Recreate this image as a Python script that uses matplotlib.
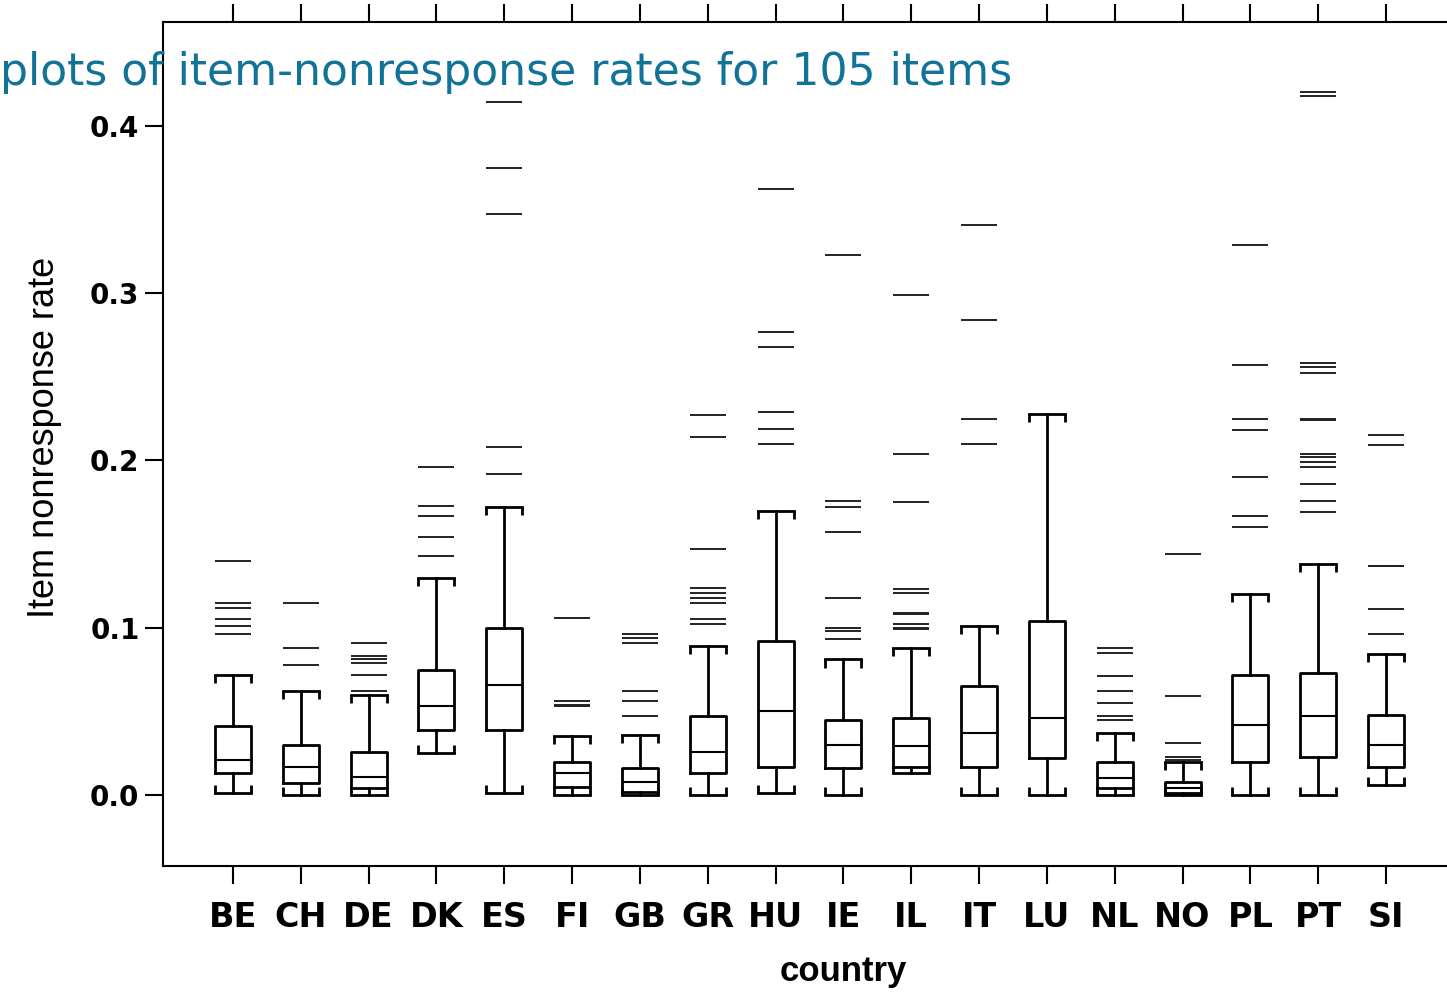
import numpy as np
import matplotlib
matplotlib.use('Agg')
import matplotlib.pyplot as plt

# Data
countries = ['BE', 'CH', 'DE', 'DK', 'ES', 'FI', 'GB', 'GR', 'HU',
             'IE', 'IL', 'IT', 'LU', 'NL', 'NO', 'PL', 'PT', 'SI']
whislo = [0.001, 0.000, 0.000, 0.025, 0.001, 0.000, 0.000, 0.000, 0.001,
          0.000, 0.013, 0.000, 0.000, 0.000, 0.000, 0.000, 0.000, 0.006]
q1 = [0.013, 0.007, 0.004, 0.039, 0.039, 0.005, 0.002, 0.013, 0.017,
      0.016, 0.017, 0.017, 0.022, 0.004, 0.001, 0.020, 0.023, 0.017]
med = [0.021, 0.017, 0.011, 0.053, 0.066, 0.013, 0.008, 0.026, 0.050,
       0.030, 0.029, 0.037, 0.046, 0.010, 0.004, 0.042, 0.047, 0.030]
q3 = [0.041, 0.030, 0.026, 0.075, 0.100, 0.020, 0.016, 0.047, 0.092,
      0.045, 0.046, 0.065, 0.104, 0.020, 0.008, 0.072, 0.073, 0.048]
whishi = [0.072, 0.062, 0.060, 0.130, 0.172, 0.035, 0.036, 0.089, 0.170,
          0.081, 0.088, 0.101, 0.228, 0.037, 0.020, 0.120, 0.138, 0.084]
outliers = [
    [0.140, 0.115, 0.112, 0.105, 0.101, 0.096],
    [0.115, 0.088, 0.078],
    [0.091, 0.083, 0.081, 0.079, 0.072, 0.062],
    [0.196, 0.173, 0.167, 0.154, 0.143],
    [0.414, 0.375, 0.347, 0.208, 0.192],
    [0.106, 0.056, 0.054, 0.053],
    [0.096, 0.094, 0.091, 0.062, 0.056, 0.047],
    [0.227, 0.214, 0.147, 0.124, 0.121, 0.118, 0.115, 0.105, 0.102],
    [0.362, 0.277, 0.268, 0.229, 0.219, 0.210],
    [0.323, 0.176, 0.172, 0.157, 0.118, 0.100, 0.098, 0.093],
    [0.299, 0.204, 0.175, 0.123, 0.121, 0.109, 0.108, 0.102, 0.100, 0.099],
    [0.341, 0.284, 0.225, 0.210],
    [],
    [0.088, 0.085, 0.071, 0.062, 0.055, 0.047, 0.045],
    [0.144, 0.059, 0.031, 0.023, 0.021],
    [0.329, 0.257, 0.225, 0.218, 0.190, 0.167, 0.160],
    [0.420, 0.418, 0.258, 0.256, 0.252, 0.225, 0.224, 0.204, 0.202, 0.199,
     0.196, 0.186, 0.176, 0.169],
    [0.215, 0.209, 0.137, 0.137, 0.111, 0.096],
]
yticks = [0.0, 0.1, 0.2, 0.3, 0.4]
ytick_labels = ['0.0', '0.1', '0.2', '0.3', '0.4']
title = 'plots of item-nonresponse rates for 105 items'

W, H = 1447, 993
fig = plt.figure(figsize=(W / 100, H / 100), dpi=100)
# axes runs off the right edge of the picture, like the reference
ax_l, ax_r, ax_b, ax_t = 163, 1462, 866, 22
ax = fig.add_axes([ax_l / W, 1 - ax_b / H, (ax_r - ax_l) / W, (ax_b - ax_t) / H])

pos = np.arange(1, len(countries) + 1)
bw = 0.53
stats = []
for i, c in enumerate(countries):
    stats.append(dict(label=c, med=med[i], q1=q1[i], q3=q3[i],
                      whislo=whislo[i], whishi=whishi[i], fliers=[]))

lw = 2.0
ax.bxp(stats, positions=pos, widths=bw, capwidths=bw, showfliers=False,
       boxprops=dict(color='black', linewidth=lw),
       medianprops=dict(color='black', linewidth=1.5),
       whiskerprops=dict(color='black', linewidth=lw),
       capprops=dict(color='black', linewidth=lw))

# little end ticks on the caps
tk = 0.0048
for i in range(len(countries)):
    for xe in (pos[i] - bw / 2, pos[i] + bw / 2):
        ax.vlines(xe, whishi[i] - tk, whishi[i], color='black', linewidth=lw)
        ax.vlines(xe, whislo[i], whislo[i] + tk, color='black', linewidth=lw)

# outliers drawn as short dashes
for i, vals in enumerate(outliers):
    if vals:
        ax.hlines(vals, pos[i] - bw / 2, pos[i] + bw / 2,
                  color='#222222', linewidth=1.4)

sp = (1386 - 233) / 17
ax.set_xlim(1 - (233 - ax_l) / sp, 1 + (ax_r - 233) / sp)
ax.set_ylim((795 - ax_b) / 1673, (795 - ax_t) / 1673)

ax.set_xticks(pos)
ax.set_xticklabels(countries, fontweight='bold', fontsize=24)
ax.set_yticks(yticks)
ax.set_yticklabels(ytick_labels, fontweight='bold', fontsize=20)

ax.tick_params(axis='x', which='both', top=True, bottom=True, direction='out',
               length=13, width=1.5, pad=12)
ax.tick_params(axis='y', which='both', left=True, right=False, direction='out',
               length=13, width=1.5, pad=4)
for s in ax.spines.values():
    s.set_linewidth(1.5)

ax.set_xlabel('country', family='Liberation Sans', fontweight='bold', fontsize=25)
ax.xaxis.set_label_coords((843 - ax_l) / (ax_r - ax_l), -(955 - ax_b) / (ax_b - ax_t))
ax.set_ylabel('Item nonresponse rate', family='Liberation Sans', fontsize=26)
ax.yaxis.set_label_coords(-(163 - 62) / (ax_r - ax_l), (ax_b - 437) / (ax_b - ax_t))

t = fig.text(0.5 / W, 1 - 85 / H, title, ha='left', va='baseline',
             color='#127399', fontsize=32, family='DejaVu Sans')
fig.canvas.draw()
tw = t.get_window_extent().width
t.set_fontsize(32 * 1015 / tw)

fig.savefig('out.png', dpi=100)
